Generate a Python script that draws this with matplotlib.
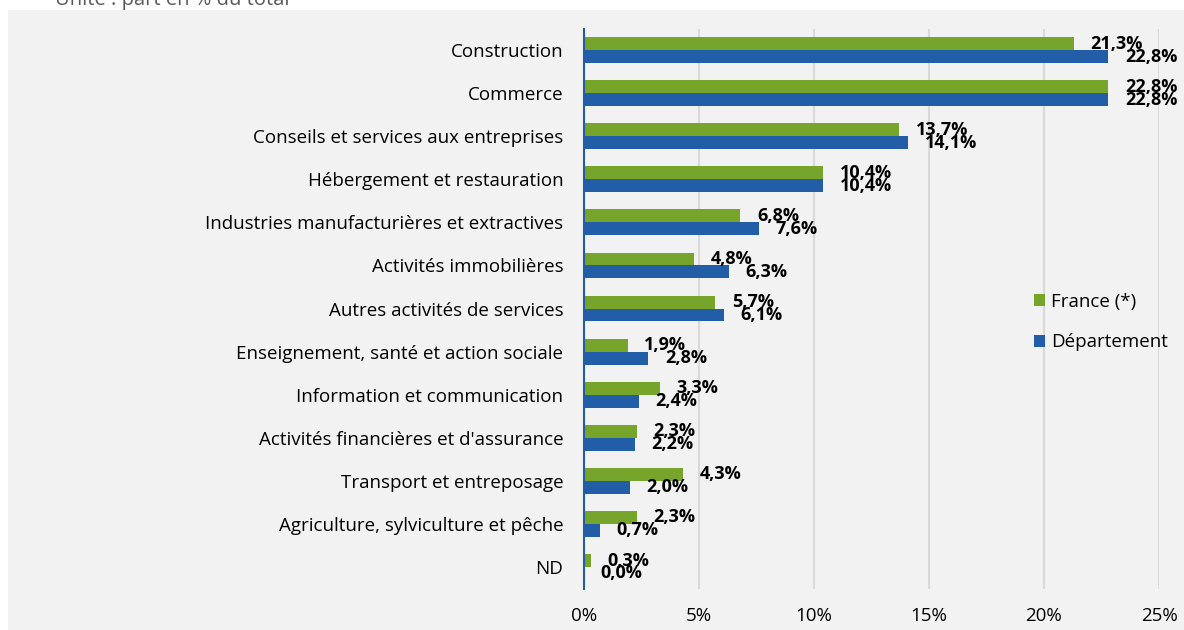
import numpy as np
import matplotlib.pyplot as plt
from matplotlib.patches import Rectangle

plt.rcParams['font.family'] = ['Open Sans', 'DejaVu Sans']

categories = [
    "Construction",
    "Commerce",
    "Conseils et services aux entreprises",
    "Hébergement et restauration",
    "Industries manufacturières et extractives",
    "Activités immobilières",
    "Autres activités de services",
    "Enseignement, santé et action sociale",
    "Information et communication",
    "Activités financières et d'assurance",
    "Transport et entreposage",
    "Agriculture, sylviculture et pêche",
    "ND",
]
france = [21.3, 22.8, 13.7, 10.4, 6.8, 4.8, 5.7, 1.9, 3.3, 2.3, 4.3, 2.3, 0.3]
departement = [22.8, 22.8, 14.1, 10.4, 7.6, 6.3, 6.1, 2.8, 2.4, 2.2, 2.0, 0.7, 0.0]
xticks = [0, 5, 10, 15, 20, 25]

green = '#77a52b'
blue = '#225ea8'
bg = '#f2f2f2'

fig = plt.figure(figsize=(11.84, 6.3), dpi=100)
fig.patch.set_facecolor('white')
fig.patches.append(Rectangle((8 / 1184, 0), 1, 1 - 10 / 630, transform=fig.transFigure,
                             facecolor=bg, edgecolor='none', zorder=-5))
fig.text(55 / 1184, 1.0, "Unité : part en % du total", fontsize=14.5, color='#595959',
         va='center', ha='left')

ax = fig.add_axes([584 / 1184, 1 - 588.5 / 630, (1159 - 584) / 1184, 560 / 630])
ax.set_facecolor(bg)

y = np.arange(len(categories))
h = 0.3
ax.barh(y - h / 2, france, height=h, color=green, label='France (*)', zorder=3)
ax.barh(y + h / 2, departement, height=h, color=blue, label='Département', zorder=3)

# étiquettes de valeurs
for i in range(len(categories)):
    ax.text(france[i] + 0.72, y[i] - h / 2, f"{france[i]:.1f}%".replace('.', ','),
            fontsize=13, fontweight='bold', va='center', ha='left', zorder=4)
    ax.text(departement[i] + 0.72, y[i] + h / 2, f"{departement[i]:.1f}%".replace('.', ','),
            fontsize=13, fontweight='bold', va='center', ha='left', zorder=4)

ax.set_ylim(len(categories) - 0.5, -0.5)
ax.set_xlim(0, 25)
ax.set_yticks(y)
ax.set_yticklabels(categories, fontsize=13.5)
ax.set_xticks(xticks)
ax.set_xticklabels([f"{t}%" for t in xticks], fontsize=13.5)
ax.tick_params(axis='y', length=0, pad=15)
ax.tick_params(axis='x', length=0, pad=13)
ax.grid(axis='x', color='#d9d9d9', linewidth=1.5, zorder=0)
for s in ['top', 'right', 'bottom']:
    ax.spines[s].set_visible(False)
ax.spines['left'].set_color(blue)
ax.spines['left'].set_linewidth(1.5)
ax.spines['left'].set_zorder(5)

ax.legend(loc='center left', bbox_to_anchor=(1017 / 1184, 1 - 322 / 630),
          bbox_transform=fig.transFigure, frameon=False, fontsize=13.5,
          handlelength=0.6, handleheight=0.6, handletextpad=0.3, labelspacing=1.2)

fig.savefig('out.png', dpi=100)
